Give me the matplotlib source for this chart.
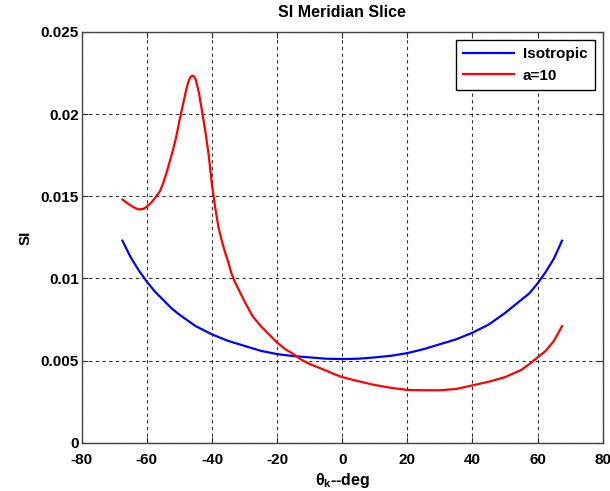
import numpy as np
from matplotlib import pyplot as plt

plt.rcParams['font.family'] = ['Liberation Sans', 'DejaVu Sans']
plt.rcParams['font.weight'] = 'bold'
plt.rcParams['axes.unicode_minus'] = False
plt.rcParams['mathtext.fontset'] = 'custom'
plt.rcParams['mathtext.rm'] = 'Liberation Sans:bold'
plt.rcParams['mathtext.it'] = 'Liberation Sans:bold'

# meridian angle (deg) and SI values
theta_iso = [-67.5, -65, -62.5, -60, -57.5, -55, -52.5, -50, -45, -40, -35, -30, -25,
             -20, -15, -10, -5, 0, 5, 10, 15, 20, 25, 30, 35, 40, 45, 50, 52.5, 55,
             57.5, 60, 62.5, 65, 67.5]
si_iso = [0.0123, 0.0113, 0.0105, 0.0098, 0.0092, 0.0087, 0.0082, 0.0078, 0.0071,
          0.0066, 0.0062, 0.0059, 0.0056, 0.0054, 0.00528, 0.0052, 0.00512, 0.0051,
          0.00512, 0.0052, 0.0053, 0.00546, 0.0057, 0.0060, 0.0063, 0.0067, 0.0072,
          0.0079, 0.0083, 0.0087, 0.0091, 0.0097, 0.0104, 0.0112, 0.0123]

theta_a10 = [-67.5, -66, -65, -64, -62.5, -61, -60, -58.5, -57.5, -56, -55, -54, -53,
             -52, -51, -50, -49, -48, -47.5, -47, -46.5, -46, -45.5, -45, -44.5, -44,
             -43.5, -43, -42, -41, -40, -39, -38, -37, -36, -35, -34, -33, -32, -31,
             -30, -27.5, -25, -22.5, -20, -17.5, -15, -12.5, -10, -7.5, -5, -2.5,
             0, 5, 10, 15, 20, 25, 30, 35, 40, 45, 50, 55, 57.5, 60, 62.5, 65, 67.5]
si_a10 = [0.0148, 0.01458, 0.01445, 0.01432, 0.0142, 0.01424, 0.01437, 0.01465,
          0.0149, 0.0153, 0.0158, 0.0164, 0.0171, 0.0178, 0.0186, 0.0196, 0.0205,
          0.0214, 0.0218, 0.0221, 0.02228, 0.02234, 0.02228, 0.0221, 0.0217, 0.0213,
          0.0207, 0.0201, 0.0189, 0.0175, 0.0157, 0.0143, 0.0131, 0.0123, 0.0116,
          0.0110, 0.0103, 0.0098, 0.0094, 0.0090, 0.0086, 0.0077, 0.0071, 0.0066,
          0.0061, 0.0057, 0.0054, 0.00505, 0.0048, 0.0046, 0.0044, 0.00418,
          0.0040, 0.00375, 0.00352, 0.00335, 0.00322, 0.0032, 0.0032, 0.00328,
          0.0035, 0.00372, 0.0040, 0.00444, 0.0048, 0.0052, 0.0056, 0.0062, 0.0071]

fig = plt.figure(figsize=(6.1, 4.91), dpi=100)
ax = fig.add_axes([0.134, 0.098, 0.854, 0.837])

ax.plot(theta_iso, si_iso, color='blue', lw=1.6, label='Isotropic')
ax.plot(theta_a10, si_a10, color='red', lw=1.6, label='a=10')

ax.set_xlim(-80, 80)
ax.set_ylim(0, 0.025)
ax.set_xticks(np.arange(-80, 81, 20))
ax.set_yticks([0, 0.005, 0.01, 0.015, 0.02, 0.025])
ax.set_yticklabels(['0', '0.005', '0.01', '0.015', '0.02', '0.025'])
ax.grid(True, color='black', linestyle=(0, (3, 3)), linewidth=0.8, alpha=0.8)
ax.tick_params(direction='in', length=4, labelsize=11, colors='#333333',
               top=True, right=True, pad=2)
ax.tick_params(axis='x', pad=7)
for lbl in ax.get_xticklabels() + ax.get_yticklabels():
    lbl.set_color('black')
for s in ax.spines.values():
    s.set_color('#444444')
    s.set_linewidth(1.0)

ax.set_title('SI Meridian Slice', fontsize=11.5, fontweight='bold', pad=11)
ax.set_xlabel(r'$\theta_k$--deg', fontsize=11.5, fontweight='bold', labelpad=3)
ax.set_ylabel('SI', fontsize=11, fontweight='bold', labelpad=6)

leg = ax.legend(loc='upper right', fontsize=11, fancybox=False, framealpha=1,
                edgecolor='black', handlelength=3.3, borderaxespad=0.5,
                labelspacing=0.5, borderpad=0.5, handletextpad=0.6)
leg.get_frame().set_linewidth(1.0)

plt.savefig('out.png', dpi=100)
